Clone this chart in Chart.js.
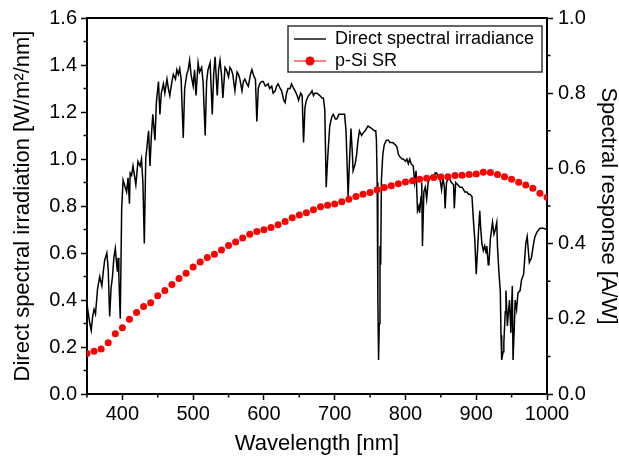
<!DOCTYPE html>
<html>
<head>
<meta charset="utf-8">
<script src="https://cdn.jsdelivr.net/npm/chart.js@4"></script>
<style>
  body { margin: 0; background: #fff; }
  canvas { display: block; }
</style>
</head>
<body>
<canvas id="grafico" width="619" height="471"></canvas>
<script>
// direct spectral irradiance
const irrWl = [350,352,354,356,358,360,362,365,368,371,373,375,378,380,382,384,386,388,390,392,393,394,395,397,399,401,404,406,408,410,411,413,415,417,419,422,425,427,429,431,433,435,437,439,441,443,446,448,451,453,455,458,460,463,465,467,470,472,475,477,479,481,483,486,488,491,493,495,497,500,502,504,507,509,512,514,517,519,521,524,527,529,531,534,536,538,540,542,545,547,550,552,554,556,559,562,564,566,569,571,573,576,578,581,583,586,588,590,592,594,597,599,602,606,608,611,613,616,618,620,623,625,628,630,632,634,637,639,642,644,647,649,652,654,656,658,660,663,666,668,670,672,675,679,682,684,686,688,690,693,696,698,701,703,706,710,714,716,719,721,723,725,726,728,729,731,733,735,738,740,743,747,752,756,758,759,760,761,762,763,764,765,766,768,770,773,776,778,782,786,788,790,792,795,797,800,802,804,806,808,811,813,815,817,819,820,822,823,824,826,828,830,832,835,837,840,842,844,847,849,851,853,855,856,858,861,863,865,868,869,871,874,877,880,882,884,887,889,891,894,896,898,900,902,903,905,906,908,910,912,914,915,917,918,920,923,925,927,929,930,932,934,935,936,938,939,941,942,944,945,947,949,950,951,952,954,955,957,959,962,964,967,970,972,975,978,981,983,986,990,995,1000];
const irrVal = [0.38,0.34,0.30,0.27,0.33,0.36,0.34,0.45,0.50,0.46,0.52,0.57,0.60,0.53,0.33,0.45,0.50,0.58,0.62,0.55,0.52,0.58,0.50,0.32,0.79,0.91,0.88,0.86,0.92,0.81,0.94,0.93,0.97,0.93,0.89,0.99,0.97,1.00,0.90,0.64,1.00,1.06,1.12,0.97,1.10,1.19,1.08,1.24,1.33,1.19,1.28,1.32,1.28,1.34,1.30,1.27,1.33,1.36,1.34,1.38,1.36,1.385,1.34,1.09,1.30,1.36,1.38,1.42,1.36,1.31,1.38,1.27,1.41,1.37,1.39,1.33,1.10,1.33,1.38,1.41,1.19,1.36,1.435,1.27,1.38,1.42,1.36,1.26,1.39,1.38,1.35,1.39,1.38,1.36,1.29,1.37,1.36,1.34,1.29,1.33,1.34,1.32,1.31,1.36,1.38,1.35,1.34,1.16,1.30,1.32,1.33,1.33,1.31,1.32,1.30,1.31,1.28,1.29,1.31,1.32,1.30,1.29,1.25,1.24,1.28,1.30,1.30,1.32,1.30,1.29,1.27,1.25,1.28,1.27,1.07,1.22,1.25,1.27,1.28,1.29,1.27,1.28,1.28,1.27,1.26,1.26,1.21,0.88,1.00,1.14,1.18,1.19,1.17,1.17,1.19,1.19,1.19,1.12,0.84,1.00,1.13,1.02,0.95,0.97,0.98,1.02,1.08,1.12,1.10,1.11,1.12,1.14,1.13,1.12,1.12,1.08,0.90,0.40,0.145,0.30,0.63,0.55,0.91,1.02,1.06,1.08,1.08,1.07,1.07,1.06,1.05,1.02,1.01,1.00,1.00,0.99,1.00,0.98,1.00,0.98,0.97,0.90,0.95,0.78,0.80,0.77,0.84,0.90,0.63,0.86,0.88,0.83,0.90,0.92,0.93,0.92,0.94,0.94,0.92,0.91,0.87,0.92,0.88,0.79,0.90,0.92,0.91,0.90,0.89,0.79,0.90,0.89,0.88,0.88,0.87,0.86,0.86,0.85,0.85,0.84,0.74,0.655,0.51,0.62,0.68,0.78,0.72,0.64,0.61,0.63,0.60,0.63,0.55,0.56,0.66,0.73,0.68,0.70,0.73,0.63,0.52,0.44,0.25,0.145,0.18,0.215,0.35,0.44,0.29,0.33,0.40,0.26,0.37,0.46,0.145,0.30,0.40,0.36,0.43,0.44,0.485,0.51,0.64,0.67,0.56,0.58,0.64,0.67,0.69,0.705,0.705,0.70];

// p-Si spectral response [A/W]
const srWl = [350,360,370,380,390,400,410,420,430,440,450,460,470,480,490,500,510,520,530,540,550,560,570,580,590,600,610,620,630,640,650,660,670,680,690,700,710,720,730,740,750,760,770,780,790,800,810,820,830,840,850,860,870,880,890,900,910,920,930,940,950,960,970,980,990,1000];
const srVal = [0.108,0.114,0.120,0.136,0.160,0.176,0.199,0.217,0.233,0.243,0.261,0.275,0.291,0.307,0.321,0.338,0.351,0.363,0.372,0.383,0.395,0.404,0.415,0.425,0.432,0.437,0.443,0.450,0.459,0.469,0.476,0.482,0.490,0.498,0.502,0.505,0.511,0.518,0.525,0.531,0.536,0.543,0.549,0.554,0.559,0.564,0.567,0.571,0.574,0.576,0.577,0.578,0.581,0.582,0.584,0.585,0.590,0.589,0.584,0.578,0.571,0.563,0.556,0.547,0.534,0.523];

// ticks
const xTicks = [400,500,600,700,800,900,1000];
const xMinor = [350,450,550,650,750,850,950];
const yTicks = [0,0.2,0.4,0.6,0.8,1.0,1.2,1.4,1.6];
const yMinor = [0.1,0.3,0.5,0.7,0.9,1.1,1.3,1.5];
const y1Ticks = [0,0.2,0.4,0.6,0.8,1.0];
const y1Minor = [0.1,0.3,0.5,0.7,0.9];

const fonte = 'Liberation Sans, Arial, sans-serif';

// minor ticks, top frame and legend
const extras = {
  id: 'extras',
  afterDraw(chart) {
    const ctx = chart.ctx, a = chart.chartArea;
    const sx = chart.scales.x, sy = chart.scales.y, sy1 = chart.scales.y1;
    ctx.save();
    ctx.strokeStyle = '#000';
    ctx.lineWidth = 1.5;
    ctx.beginPath();
    xMinor.forEach(v => { const p = sx.getPixelForValue(v); ctx.moveTo(p, a.bottom); ctx.lineTo(p, a.bottom + 3.5); });
    yMinor.forEach(v => { const p = sy.getPixelForValue(v); ctx.moveTo(a.left, p); ctx.lineTo(a.left - 3.5, p); });
    y1Minor.forEach(v => { const p = sy1.getPixelForValue(v); ctx.moveTo(a.right, p); ctx.lineTo(a.right + 3.5, p); });
    ctx.stroke();
    ctx.lineWidth = 2;
    ctx.beginPath();
    ctx.moveTo(a.left - 1, a.top); ctx.lineTo(a.right + 1, a.top);
    ctx.stroke();

    // legenda
    const bx = a.right - 259, by = a.top + 8;
    ctx.lineWidth = 1.5;
    ctx.strokeStyle = '#333';
    ctx.fillStyle = '#fff';
    ctx.fillRect(bx, by, 254, 46);
    ctx.strokeRect(bx, by, 254, 46);
    ctx.strokeStyle = '#000';
    ctx.lineWidth = 1.4;
    ctx.beginPath(); ctx.moveTo(bx + 6, by + 13); ctx.lineTo(bx + 38, by + 13); ctx.stroke();
    ctx.strokeStyle = '#ff0000';
    ctx.lineWidth = 1;
    ctx.beginPath(); ctx.moveTo(bx + 6, by + 35); ctx.lineTo(bx + 38, by + 35); ctx.stroke();
    ctx.fillStyle = '#ff0000';
    ctx.beginPath(); ctx.arc(bx + 22, by + 35, 4.5, 0, Math.PI * 2); ctx.fill();
    ctx.fillStyle = '#000';
    ctx.font = '18px ' + fonte;
    ctx.textBaseline = 'middle';
    ctx.fillText('Direct spectral irradiance', bx + 47, by + 13);
    ctx.fillText('p-Si SR', bx + 47, by + 35);
    ctx.restore();
  }
};

const ctx = document.getElementById('grafico');
new Chart(ctx, {
  type: 'scatter',
  data: {
    datasets: [{
      label: 'p-Si SR',
      data: srWl.map((w, i) => ({ x: w, y: srVal[i] })),
      yAxisID: 'y1',
      showLine: false,
      pointRadius: 3.5,
      pointBorderWidth: 0,
      pointBackgroundColor: '#ff0000',
      order: 0
    }, {
      label: 'Direct spectral irradiance',
      data: irrWl.map((w, i) => ({ x: w, y: irrVal[i] })),
      yAxisID: 'y',
      showLine: true,
      borderColor: '#000',
      borderWidth: 1.5,
      pointRadius: 0,
      tension: 0,
      order: 1
    }]
  },
  options: {
    responsive: false,
    animation: false,
    layout: { padding: { top: 18, left: 0, right: 0, bottom: 0 } },
    plugins: { legend: { display: false }, tooltip: { enabled: false } },
    scales: {
      x: {
        type: 'linear', min: 350, max: 1000,
        afterFit: s => { s.height = 77; },
        afterBuildTicks: s => { s.ticks = xTicks.map(v => ({ value: v })); },
        grid: { drawOnChartArea: false, tickLength: 6, tickWidth: 1.5, tickColor: '#000' },
        border: { color: '#000', width: 2 },
        ticks: { color: '#000', padding: 2, font: { family: fonte, size: 20 }, callback: v => String(v) },
        title: { display: true, text: 'Wavelength [nm]', color: '#000', padding: { bottom: 14 }, font: { family: fonte, size: 22 } }
      },
      y: {
        position: 'left', min: 0, max: 1.6,
        afterFit: s => { s.width = 87; },
        afterBuildTicks: s => { s.ticks = yTicks.map(v => ({ value: v })); },
        grid: { drawOnChartArea: false, tickLength: 6, tickWidth: 1.5, tickColor: '#000' },
        border: { color: '#000', width: 2 },
        ticks: { color: '#000', padding: 4, font: { family: fonte, size: 20 }, callback: v => v.toFixed(1) },
        title: { display: true, text: 'Direct spectral irradiation [W/m²/nm]', color: '#000', padding: { top: 10 }, font: { family: fonte, size: 22 } }
      },
      y1: {
        position: 'right', min: 0, max: 1.0,
        afterFit: s => { s.width = 72; },
        afterBuildTicks: s => { s.ticks = y1Ticks.map(v => ({ value: v })); },
        grid: { drawOnChartArea: false, tickLength: 6, tickWidth: 1.5, tickColor: '#000' },
        border: { color: '#000', width: 2 },
        ticks: { color: '#000', padding: 5, font: { family: fonte, size: 20 }, callback: v => v.toFixed(1) },
        title: { display: true, text: 'Spectral response [A/W]', color: '#000', padding: { top: 0 }, font: { family: fonte, size: 22, lineHeight: 1.0 } }
      }
    }
  },
  plugins: [extras]
});
</script>
</body>
</html>
